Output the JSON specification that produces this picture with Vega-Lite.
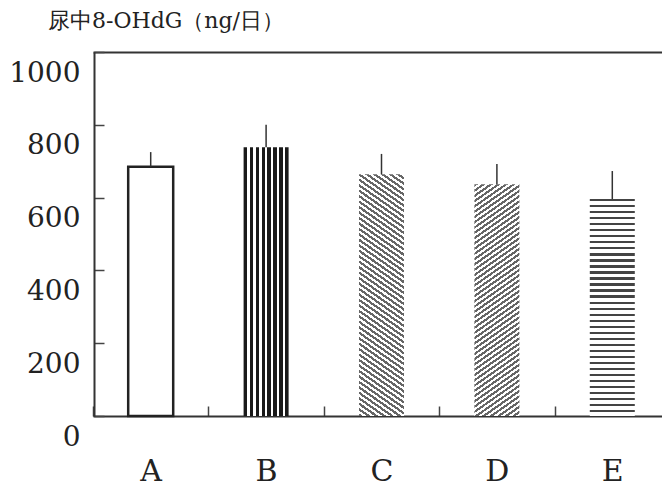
{
  "$schema": "https://vega.github.io/schema/vega-lite/v6.json",
  "width": 568,
  "height": 364,
  "autosize": "none",
  "padding": {"left": 94, "top": 52, "right": 0, "bottom": 70},
  "config": {"view": {"stroke": null}, "background": "white"},
  "title": {
    "text": "尿中8-OHdG（ng/日）",
    "anchor": "start",
    "frame": "group",
    "orient": "top",
    "dx": -46,
    "dy": 15,
    "offset": 11,
    "baseline": "bottom",
    "font": "DejaVu Serif",
    "fontSize": 22,
    "fontWeight": "normal",
    "color": "#222"
  },
  "data": {
    "values": [
      {"group": "A", "mean": 685, "upper": 725},
      {"group": "B", "mean": 738, "upper": 800},
      {"group": "C", "mean": 664, "upper": 720},
      {"group": "D", "mean": 637, "upper": 692},
      {"group": "E", "mean": 596, "upper": 673}
    ]
  },
  "layer": [
    {
      "transform": [{"filter": "datum.group === 'A'"}],
      "mark": {"type": "bar", "size": 45, "fill": "white", "stroke": "#222", "strokeWidth": 2.5},
      "encoding": {
        "x": {
          "field": "group", "type": "nominal",
          "scale": {"domain": ["A", "B", "C", "D", "E"], "range": [-1, 576], "paddingInner": 0, "paddingOuter": 0},
          "axis": {"orient": "bottom", "title": null, "labelAngle": 0, "tickBand": "extent", "tickSize": -10, "tickColor": "#444", "tickWidth": 1.5, "domainColor": "#333", "domainWidth": 2, "labelFont": "DejaVu Serif", "labelFontSize": 30, "labelColor": "#222", "labelPadding": 50, "labelBaseline": "top"}
        },
        "y": {
          "field": "mean", "type": "quantitative",
          "scale": {"domain": [0, 1000], "nice": false},
          "axis": {"values": [0, 200, 400, 600, 800, 1000], "format": "d", "title": null, "grid": false, "domainColor": "#333", "domainWidth": 2, "tickColor": "#444", "tickWidth": 1.5, "tickSize": -10, "labelFont": "DejaVu Serif", "labelFontSize": 28, "labelColor": "#222", "labelPadding": 24, "labelOffset": 21, "labelBaseline": "middle"}
        }
      }
    },
    {
      "transform": [{"filter": "datum.group === 'B'"}],
      "mark": {"type": "bar", "size": 45, "fill": {"gradient": "linear", "x1": 0, "y1": 0, "x2": 1, "y2": 0, "stops": [{"offset":0,"color":"#1a1a1a"},{"offset":0.0711,"color":"#1a1a1a"},{"offset":0.0711,"color":"#fff"},{"offset":0.1327,"color":"#fff"},{"offset":0.1327,"color":"#1a1a1a"},{"offset":0.2038,"color":"#1a1a1a"},{"offset":0.2038,"color":"#fff"},{"offset":0.2654,"color":"#fff"},{"offset":0.2654,"color":"#1a1a1a"},{"offset":0.3365,"color":"#1a1a1a"},{"offset":0.3365,"color":"#fff"},{"offset":0.3981,"color":"#fff"},{"offset":0.3981,"color":"#1a1a1a"},{"offset":0.4692,"color":"#1a1a1a"},{"offset":0.4692,"color":"#fff"},{"offset":0.5308,"color":"#fff"},{"offset":0.5308,"color":"#1a1a1a"},{"offset":0.6019,"color":"#1a1a1a"},{"offset":0.6019,"color":"#fff"},{"offset":0.6635,"color":"#fff"},{"offset":0.6635,"color":"#1a1a1a"},{"offset":0.7346,"color":"#1a1a1a"},{"offset":0.7346,"color":"#fff"},{"offset":0.7962,"color":"#fff"},{"offset":0.7962,"color":"#1a1a1a"},{"offset":0.8673,"color":"#1a1a1a"},{"offset":0.8673,"color":"#fff"},{"offset":0.9289,"color":"#fff"},{"offset":0.9289,"color":"#1a1a1a"},{"offset":1,"color":"#1a1a1a"}]}},
      "encoding": {
        "x": {"field": "group", "type": "nominal", "axis": null},
        "y": {"field": "mean", "type": "quantitative"}
      }
    },
    {
      "transform": [{"filter": "datum.group === 'C'"}],
      "mark": {"type": "bar", "size": 45, "fill": {"gradient": "linear", "x1": 0, "y1": 1, "x2": 0.14485, "y2": -0.11146, "stops": [{"offset":0,"color":"#666"},{"offset":0.01,"color":"#666"},{"offset":0.01,"color":"#fff"},{"offset":0.02,"color":"#fff"},{"offset":0.02,"color":"#666"},{"offset":0.03,"color":"#666"},{"offset":0.03,"color":"#fff"},{"offset":0.04,"color":"#fff"},{"offset":0.04,"color":"#666"},{"offset":0.05,"color":"#666"},{"offset":0.05,"color":"#fff"},{"offset":0.06,"color":"#fff"},{"offset":0.06,"color":"#666"},{"offset":0.07,"color":"#666"},{"offset":0.07,"color":"#fff"},{"offset":0.08,"color":"#fff"},{"offset":0.08,"color":"#666"},{"offset":0.09,"color":"#666"},{"offset":0.09,"color":"#fff"},{"offset":0.1,"color":"#fff"},{"offset":0.1,"color":"#666"},{"offset":0.11,"color":"#666"},{"offset":0.11,"color":"#fff"},{"offset":0.12,"color":"#fff"},{"offset":0.12,"color":"#666"},{"offset":0.13,"color":"#666"},{"offset":0.13,"color":"#fff"},{"offset":0.14,"color":"#fff"},{"offset":0.14,"color":"#666"},{"offset":0.15,"color":"#666"},{"offset":0.15,"color":"#fff"},{"offset":0.16,"color":"#fff"},{"offset":0.16,"color":"#666"},{"offset":0.17,"color":"#666"},{"offset":0.17,"color":"#fff"},{"offset":0.18,"color":"#fff"},{"offset":0.18,"color":"#666"},{"offset":0.19,"color":"#666"},{"offset":0.19,"color":"#fff"},{"offset":0.2,"color":"#fff"},{"offset":0.2,"color":"#666"},{"offset":0.21,"color":"#666"},{"offset":0.21,"color":"#fff"},{"offset":0.22,"color":"#fff"},{"offset":0.22,"color":"#666"},{"offset":0.23,"color":"#666"},{"offset":0.23,"color":"#fff"},{"offset":0.24,"color":"#fff"},{"offset":0.24,"color":"#666"},{"offset":0.25,"color":"#666"},{"offset":0.25,"color":"#fff"},{"offset":0.26,"color":"#fff"},{"offset":0.26,"color":"#666"},{"offset":0.27,"color":"#666"},{"offset":0.27,"color":"#fff"},{"offset":0.28,"color":"#fff"},{"offset":0.28,"color":"#666"},{"offset":0.29,"color":"#666"},{"offset":0.29,"color":"#fff"},{"offset":0.3,"color":"#fff"},{"offset":0.3,"color":"#666"},{"offset":0.31,"color":"#666"},{"offset":0.31,"color":"#fff"},{"offset":0.32,"color":"#fff"},{"offset":0.32,"color":"#666"},{"offset":0.33,"color":"#666"},{"offset":0.33,"color":"#fff"},{"offset":0.34,"color":"#fff"},{"offset":0.34,"color":"#666"},{"offset":0.35,"color":"#666"},{"offset":0.35,"color":"#fff"},{"offset":0.36,"color":"#fff"},{"offset":0.36,"color":"#666"},{"offset":0.37,"color":"#666"},{"offset":0.37,"color":"#fff"},{"offset":0.38,"color":"#fff"},{"offset":0.38,"color":"#666"},{"offset":0.39,"color":"#666"},{"offset":0.39,"color":"#fff"},{"offset":0.4,"color":"#fff"},{"offset":0.4,"color":"#666"},{"offset":0.41,"color":"#666"},{"offset":0.41,"color":"#fff"},{"offset":0.42,"color":"#fff"},{"offset":0.42,"color":"#666"},{"offset":0.43,"color":"#666"},{"offset":0.43,"color":"#fff"},{"offset":0.44,"color":"#fff"},{"offset":0.44,"color":"#666"},{"offset":0.45,"color":"#666"},{"offset":0.45,"color":"#fff"},{"offset":0.46,"color":"#fff"},{"offset":0.46,"color":"#666"},{"offset":0.47,"color":"#666"},{"offset":0.47,"color":"#fff"},{"offset":0.48,"color":"#fff"},{"offset":0.48,"color":"#666"},{"offset":0.49,"color":"#666"},{"offset":0.49,"color":"#fff"},{"offset":0.5,"color":"#fff"},{"offset":0.5,"color":"#666"},{"offset":0.51,"color":"#666"},{"offset":0.51,"color":"#fff"},{"offset":0.52,"color":"#fff"},{"offset":0.52,"color":"#666"},{"offset":0.53,"color":"#666"},{"offset":0.53,"color":"#fff"},{"offset":0.54,"color":"#fff"},{"offset":0.54,"color":"#666"},{"offset":0.55,"color":"#666"},{"offset":0.55,"color":"#fff"},{"offset":0.56,"color":"#fff"},{"offset":0.56,"color":"#666"},{"offset":0.57,"color":"#666"},{"offset":0.57,"color":"#fff"},{"offset":0.58,"color":"#fff"},{"offset":0.58,"color":"#666"},{"offset":0.59,"color":"#666"},{"offset":0.59,"color":"#fff"},{"offset":0.6,"color":"#fff"},{"offset":0.6,"color":"#666"},{"offset":0.61,"color":"#666"},{"offset":0.61,"color":"#fff"},{"offset":0.62,"color":"#fff"},{"offset":0.62,"color":"#666"},{"offset":0.63,"color":"#666"},{"offset":0.63,"color":"#fff"},{"offset":0.64,"color":"#fff"},{"offset":0.64,"color":"#666"},{"offset":0.65,"color":"#666"},{"offset":0.65,"color":"#fff"},{"offset":0.66,"color":"#fff"},{"offset":0.66,"color":"#666"},{"offset":0.67,"color":"#666"},{"offset":0.67,"color":"#fff"},{"offset":0.68,"color":"#fff"},{"offset":0.68,"color":"#666"},{"offset":0.69,"color":"#666"},{"offset":0.69,"color":"#fff"},{"offset":0.7,"color":"#fff"},{"offset":0.7,"color":"#666"},{"offset":0.71,"color":"#666"},{"offset":0.71,"color":"#fff"},{"offset":0.72,"color":"#fff"},{"offset":0.72,"color":"#666"},{"offset":0.73,"color":"#666"},{"offset":0.73,"color":"#fff"},{"offset":0.74,"color":"#fff"},{"offset":0.74,"color":"#666"},{"offset":0.75,"color":"#666"},{"offset":0.75,"color":"#fff"},{"offset":0.76,"color":"#fff"},{"offset":0.76,"color":"#666"},{"offset":0.77,"color":"#666"},{"offset":0.77,"color":"#fff"},{"offset":0.78,"color":"#fff"},{"offset":0.78,"color":"#666"},{"offset":0.79,"color":"#666"},{"offset":0.79,"color":"#fff"},{"offset":0.8,"color":"#fff"},{"offset":0.8,"color":"#666"},{"offset":0.81,"color":"#666"},{"offset":0.81,"color":"#fff"},{"offset":0.82,"color":"#fff"},{"offset":0.82,"color":"#666"},{"offset":0.83,"color":"#666"},{"offset":0.83,"color":"#fff"},{"offset":0.84,"color":"#fff"},{"offset":0.84,"color":"#666"},{"offset":0.85,"color":"#666"},{"offset":0.85,"color":"#fff"},{"offset":0.86,"color":"#fff"},{"offset":0.86,"color":"#666"},{"offset":0.87,"color":"#666"},{"offset":0.87,"color":"#fff"},{"offset":0.88,"color":"#fff"},{"offset":0.88,"color":"#666"},{"offset":0.89,"color":"#666"},{"offset":0.89,"color":"#fff"},{"offset":0.9,"color":"#fff"},{"offset":0.9,"color":"#666"},{"offset":0.91,"color":"#666"},{"offset":0.91,"color":"#fff"},{"offset":0.92,"color":"#fff"},{"offset":0.92,"color":"#666"},{"offset":0.93,"color":"#666"},{"offset":0.93,"color":"#fff"},{"offset":0.94,"color":"#fff"},{"offset":0.94,"color":"#666"},{"offset":0.95,"color":"#666"},{"offset":0.95,"color":"#fff"},{"offset":0.96,"color":"#fff"},{"offset":0.96,"color":"#666"},{"offset":0.97,"color":"#666"},{"offset":0.97,"color":"#fff"},{"offset":0.98,"color":"#fff"},{"offset":0.98,"color":"#666"},{"offset":0.99,"color":"#666"},{"offset":0.99,"color":"#fff"},{"offset":1,"color":"#fff"}]}},
      "encoding": {
        "x": {"field": "group", "type": "nominal", "axis": null},
        "y": {"field": "mean", "type": "quantitative"}
      }
    },
    {
      "transform": [{"filter": "datum.group === 'D'"}],
      "mark": {"type": "bar", "size": 45, "fill": {"gradient": "linear", "x1": 0, "y1": 0, "x2": 0.15149, "y2": 1.11525, "stops": [{"offset":0,"color":"#666"},{"offset":0.01,"color":"#666"},{"offset":0.01,"color":"#fff"},{"offset":0.02,"color":"#fff"},{"offset":0.02,"color":"#666"},{"offset":0.03,"color":"#666"},{"offset":0.03,"color":"#fff"},{"offset":0.04,"color":"#fff"},{"offset":0.04,"color":"#666"},{"offset":0.05,"color":"#666"},{"offset":0.05,"color":"#fff"},{"offset":0.06,"color":"#fff"},{"offset":0.06,"color":"#666"},{"offset":0.07,"color":"#666"},{"offset":0.07,"color":"#fff"},{"offset":0.08,"color":"#fff"},{"offset":0.08,"color":"#666"},{"offset":0.09,"color":"#666"},{"offset":0.09,"color":"#fff"},{"offset":0.1,"color":"#fff"},{"offset":0.1,"color":"#666"},{"offset":0.11,"color":"#666"},{"offset":0.11,"color":"#fff"},{"offset":0.12,"color":"#fff"},{"offset":0.12,"color":"#666"},{"offset":0.13,"color":"#666"},{"offset":0.13,"color":"#fff"},{"offset":0.14,"color":"#fff"},{"offset":0.14,"color":"#666"},{"offset":0.15,"color":"#666"},{"offset":0.15,"color":"#fff"},{"offset":0.16,"color":"#fff"},{"offset":0.16,"color":"#666"},{"offset":0.17,"color":"#666"},{"offset":0.17,"color":"#fff"},{"offset":0.18,"color":"#fff"},{"offset":0.18,"color":"#666"},{"offset":0.19,"color":"#666"},{"offset":0.19,"color":"#fff"},{"offset":0.2,"color":"#fff"},{"offset":0.2,"color":"#666"},{"offset":0.21,"color":"#666"},{"offset":0.21,"color":"#fff"},{"offset":0.22,"color":"#fff"},{"offset":0.22,"color":"#666"},{"offset":0.23,"color":"#666"},{"offset":0.23,"color":"#fff"},{"offset":0.24,"color":"#fff"},{"offset":0.24,"color":"#666"},{"offset":0.25,"color":"#666"},{"offset":0.25,"color":"#fff"},{"offset":0.26,"color":"#fff"},{"offset":0.26,"color":"#666"},{"offset":0.27,"color":"#666"},{"offset":0.27,"color":"#fff"},{"offset":0.28,"color":"#fff"},{"offset":0.28,"color":"#666"},{"offset":0.29,"color":"#666"},{"offset":0.29,"color":"#fff"},{"offset":0.3,"color":"#fff"},{"offset":0.3,"color":"#666"},{"offset":0.31,"color":"#666"},{"offset":0.31,"color":"#fff"},{"offset":0.32,"color":"#fff"},{"offset":0.32,"color":"#666"},{"offset":0.33,"color":"#666"},{"offset":0.33,"color":"#fff"},{"offset":0.34,"color":"#fff"},{"offset":0.34,"color":"#666"},{"offset":0.35,"color":"#666"},{"offset":0.35,"color":"#fff"},{"offset":0.36,"color":"#fff"},{"offset":0.36,"color":"#666"},{"offset":0.37,"color":"#666"},{"offset":0.37,"color":"#fff"},{"offset":0.38,"color":"#fff"},{"offset":0.38,"color":"#666"},{"offset":0.39,"color":"#666"},{"offset":0.39,"color":"#fff"},{"offset":0.4,"color":"#fff"},{"offset":0.4,"color":"#666"},{"offset":0.41,"color":"#666"},{"offset":0.41,"color":"#fff"},{"offset":0.42,"color":"#fff"},{"offset":0.42,"color":"#666"},{"offset":0.43,"color":"#666"},{"offset":0.43,"color":"#fff"},{"offset":0.44,"color":"#fff"},{"offset":0.44,"color":"#666"},{"offset":0.45,"color":"#666"},{"offset":0.45,"color":"#fff"},{"offset":0.46,"color":"#fff"},{"offset":0.46,"color":"#666"},{"offset":0.47,"color":"#666"},{"offset":0.47,"color":"#fff"},{"offset":0.48,"color":"#fff"},{"offset":0.48,"color":"#666"},{"offset":0.49,"color":"#666"},{"offset":0.49,"color":"#fff"},{"offset":0.5,"color":"#fff"},{"offset":0.5,"color":"#666"},{"offset":0.51,"color":"#666"},{"offset":0.51,"color":"#fff"},{"offset":0.52,"color":"#fff"},{"offset":0.52,"color":"#666"},{"offset":0.53,"color":"#666"},{"offset":0.53,"color":"#fff"},{"offset":0.54,"color":"#fff"},{"offset":0.54,"color":"#666"},{"offset":0.55,"color":"#666"},{"offset":0.55,"color":"#fff"},{"offset":0.56,"color":"#fff"},{"offset":0.56,"color":"#666"},{"offset":0.57,"color":"#666"},{"offset":0.57,"color":"#fff"},{"offset":0.58,"color":"#fff"},{"offset":0.58,"color":"#666"},{"offset":0.59,"color":"#666"},{"offset":0.59,"color":"#fff"},{"offset":0.6,"color":"#fff"},{"offset":0.6,"color":"#666"},{"offset":0.61,"color":"#666"},{"offset":0.61,"color":"#fff"},{"offset":0.62,"color":"#fff"},{"offset":0.62,"color":"#666"},{"offset":0.63,"color":"#666"},{"offset":0.63,"color":"#fff"},{"offset":0.64,"color":"#fff"},{"offset":0.64,"color":"#666"},{"offset":0.65,"color":"#666"},{"offset":0.65,"color":"#fff"},{"offset":0.66,"color":"#fff"},{"offset":0.66,"color":"#666"},{"offset":0.67,"color":"#666"},{"offset":0.67,"color":"#fff"},{"offset":0.68,"color":"#fff"},{"offset":0.68,"color":"#666"},{"offset":0.69,"color":"#666"},{"offset":0.69,"color":"#fff"},{"offset":0.7,"color":"#fff"},{"offset":0.7,"color":"#666"},{"offset":0.71,"color":"#666"},{"offset":0.71,"color":"#fff"},{"offset":0.72,"color":"#fff"},{"offset":0.72,"color":"#666"},{"offset":0.73,"color":"#666"},{"offset":0.73,"color":"#fff"},{"offset":0.74,"color":"#fff"},{"offset":0.74,"color":"#666"},{"offset":0.75,"color":"#666"},{"offset":0.75,"color":"#fff"},{"offset":0.76,"color":"#fff"},{"offset":0.76,"color":"#666"},{"offset":0.77,"color":"#666"},{"offset":0.77,"color":"#fff"},{"offset":0.78,"color":"#fff"},{"offset":0.78,"color":"#666"},{"offset":0.79,"color":"#666"},{"offset":0.79,"color":"#fff"},{"offset":0.8,"color":"#fff"},{"offset":0.8,"color":"#666"},{"offset":0.81,"color":"#666"},{"offset":0.81,"color":"#fff"},{"offset":0.82,"color":"#fff"},{"offset":0.82,"color":"#666"},{"offset":0.83,"color":"#666"},{"offset":0.83,"color":"#fff"},{"offset":0.84,"color":"#fff"},{"offset":0.84,"color":"#666"},{"offset":0.85,"color":"#666"},{"offset":0.85,"color":"#fff"},{"offset":0.86,"color":"#fff"},{"offset":0.86,"color":"#666"},{"offset":0.87,"color":"#666"},{"offset":0.87,"color":"#fff"},{"offset":0.88,"color":"#fff"},{"offset":0.88,"color":"#666"},{"offset":0.89,"color":"#666"},{"offset":0.89,"color":"#fff"},{"offset":0.9,"color":"#fff"},{"offset":0.9,"color":"#666"},{"offset":0.91,"color":"#666"},{"offset":0.91,"color":"#fff"},{"offset":0.92,"color":"#fff"},{"offset":0.92,"color":"#666"},{"offset":0.93,"color":"#666"},{"offset":0.93,"color":"#fff"},{"offset":0.94,"color":"#fff"},{"offset":0.94,"color":"#666"},{"offset":0.95,"color":"#666"},{"offset":0.95,"color":"#fff"},{"offset":0.96,"color":"#fff"},{"offset":0.96,"color":"#666"},{"offset":0.97,"color":"#666"},{"offset":0.97,"color":"#fff"},{"offset":0.98,"color":"#fff"},{"offset":0.98,"color":"#666"},{"offset":0.99,"color":"#666"},{"offset":0.99,"color":"#fff"},{"offset":1,"color":"#fff"}]}},
      "encoding": {
        "x": {"field": "group", "type": "nominal", "axis": null},
        "y": {"field": "mean", "type": "quantitative"}
      }
    },
    {
      "transform": [{"filter": "datum.group === 'E'"}],
      "mark": {"type": "bar", "size": 45, "fill": {"gradient": "linear", "x1": 0, "y1": 0, "x2": 0, "y2": 1, "stops": [{"offset":0,"color":"#444"},{"offset":0.0102,"color":"#444"},{"offset":0.0102,"color":"#fff"},{"offset":0.02778,"color":"#fff"},{"offset":0.02778,"color":"#444"},{"offset":0.03798,"color":"#444"},{"offset":0.03798,"color":"#fff"},{"offset":0.05556,"color":"#fff"},{"offset":0.05556,"color":"#444"},{"offset":0.06576,"color":"#444"},{"offset":0.06576,"color":"#fff"},{"offset":0.08333,"color":"#fff"},{"offset":0.08333,"color":"#444"},{"offset":0.09353,"color":"#444"},{"offset":0.09353,"color":"#fff"},{"offset":0.11111,"color":"#fff"},{"offset":0.11111,"color":"#444"},{"offset":0.12131,"color":"#444"},{"offset":0.12131,"color":"#fff"},{"offset":0.13889,"color":"#fff"},{"offset":0.13889,"color":"#444"},{"offset":0.14909,"color":"#444"},{"offset":0.14909,"color":"#fff"},{"offset":0.16667,"color":"#fff"},{"offset":0.16667,"color":"#444"},{"offset":0.17687,"color":"#444"},{"offset":0.17687,"color":"#fff"},{"offset":0.19444,"color":"#fff"},{"offset":0.19444,"color":"#444"},{"offset":0.20464,"color":"#444"},{"offset":0.20464,"color":"#fff"},{"offset":0.22222,"color":"#fff"},{"offset":0.22222,"color":"#444"},{"offset":0.23242,"color":"#444"},{"offset":0.23242,"color":"#fff"},{"offset":0.25,"color":"#fff"},{"offset":0.25,"color":"#444"},{"offset":0.2602,"color":"#444"},{"offset":0.2602,"color":"#fff"},{"offset":0.27778,"color":"#fff"},{"offset":0.27778,"color":"#444"},{"offset":0.28798,"color":"#444"},{"offset":0.28798,"color":"#fff"},{"offset":0.30556,"color":"#fff"},{"offset":0.30556,"color":"#444"},{"offset":0.31576,"color":"#444"},{"offset":0.31576,"color":"#fff"},{"offset":0.33333,"color":"#fff"},{"offset":0.33333,"color":"#444"},{"offset":0.34353,"color":"#444"},{"offset":0.34353,"color":"#fff"},{"offset":0.36111,"color":"#fff"},{"offset":0.36111,"color":"#444"},{"offset":0.37131,"color":"#444"},{"offset":0.37131,"color":"#fff"},{"offset":0.38889,"color":"#fff"},{"offset":0.38889,"color":"#444"},{"offset":0.39909,"color":"#444"},{"offset":0.39909,"color":"#fff"},{"offset":0.41667,"color":"#fff"},{"offset":0.41667,"color":"#444"},{"offset":0.42687,"color":"#444"},{"offset":0.42687,"color":"#fff"},{"offset":0.44444,"color":"#fff"},{"offset":0.44444,"color":"#444"},{"offset":0.45464,"color":"#444"},{"offset":0.45464,"color":"#fff"},{"offset":0.47222,"color":"#fff"},{"offset":0.47222,"color":"#444"},{"offset":0.48242,"color":"#444"},{"offset":0.48242,"color":"#fff"},{"offset":0.5,"color":"#fff"},{"offset":0.5,"color":"#444"},{"offset":0.5102,"color":"#444"},{"offset":0.5102,"color":"#fff"},{"offset":0.52778,"color":"#fff"},{"offset":0.52778,"color":"#444"},{"offset":0.53798,"color":"#444"},{"offset":0.53798,"color":"#fff"},{"offset":0.55556,"color":"#fff"},{"offset":0.55556,"color":"#444"},{"offset":0.56576,"color":"#444"},{"offset":0.56576,"color":"#fff"},{"offset":0.58333,"color":"#fff"},{"offset":0.58333,"color":"#444"},{"offset":0.59353,"color":"#444"},{"offset":0.59353,"color":"#fff"},{"offset":0.61111,"color":"#fff"},{"offset":0.61111,"color":"#444"},{"offset":0.62131,"color":"#444"},{"offset":0.62131,"color":"#fff"},{"offset":0.63889,"color":"#fff"},{"offset":0.63889,"color":"#444"},{"offset":0.64909,"color":"#444"},{"offset":0.64909,"color":"#fff"},{"offset":0.66667,"color":"#fff"},{"offset":0.66667,"color":"#444"},{"offset":0.67687,"color":"#444"},{"offset":0.67687,"color":"#fff"},{"offset":0.69444,"color":"#fff"},{"offset":0.69444,"color":"#444"},{"offset":0.70464,"color":"#444"},{"offset":0.70464,"color":"#fff"},{"offset":0.72222,"color":"#fff"},{"offset":0.72222,"color":"#444"},{"offset":0.73242,"color":"#444"},{"offset":0.73242,"color":"#fff"},{"offset":0.75,"color":"#fff"},{"offset":0.75,"color":"#444"},{"offset":0.7602,"color":"#444"},{"offset":0.7602,"color":"#fff"},{"offset":0.77778,"color":"#fff"},{"offset":0.77778,"color":"#444"},{"offset":0.78798,"color":"#444"},{"offset":0.78798,"color":"#fff"},{"offset":0.80556,"color":"#fff"},{"offset":0.80556,"color":"#444"},{"offset":0.81576,"color":"#444"},{"offset":0.81576,"color":"#fff"},{"offset":0.83333,"color":"#fff"},{"offset":0.83333,"color":"#444"},{"offset":0.84353,"color":"#444"},{"offset":0.84353,"color":"#fff"},{"offset":0.86111,"color":"#fff"},{"offset":0.86111,"color":"#444"},{"offset":0.87131,"color":"#444"},{"offset":0.87131,"color":"#fff"},{"offset":0.88889,"color":"#fff"},{"offset":0.88889,"color":"#444"},{"offset":0.89909,"color":"#444"},{"offset":0.89909,"color":"#fff"},{"offset":0.91667,"color":"#fff"},{"offset":0.91667,"color":"#444"},{"offset":0.92687,"color":"#444"},{"offset":0.92687,"color":"#fff"},{"offset":0.94444,"color":"#fff"},{"offset":0.94444,"color":"#444"},{"offset":0.95464,"color":"#444"},{"offset":0.95464,"color":"#fff"},{"offset":0.97222,"color":"#fff"},{"offset":0.97222,"color":"#444"},{"offset":0.98242,"color":"#444"},{"offset":0.98242,"color":"#fff"},{"offset":1,"color":"#fff"}]}},
      "encoding": {
        "x": {"field": "group", "type": "nominal", "axis": null},
        "y": {"field": "mean", "type": "quantitative"}
      }
    },
    {
      "mark": {"type": "rule", "stroke": "#333", "strokeWidth": 1.5},
      "encoding": {
        "x": {"field": "group", "type": "nominal", "axis": {"orient": "top", "labels": false, "ticks": false, "title": null, "domainColor": "#333", "domainWidth": 2}},
        "y": {"field": "mean", "type": "quantitative"},
        "y2": {"field": "upper"}
      }
    }
  ],
  "resolve": {"axis": {"x": "independent"}}
}
